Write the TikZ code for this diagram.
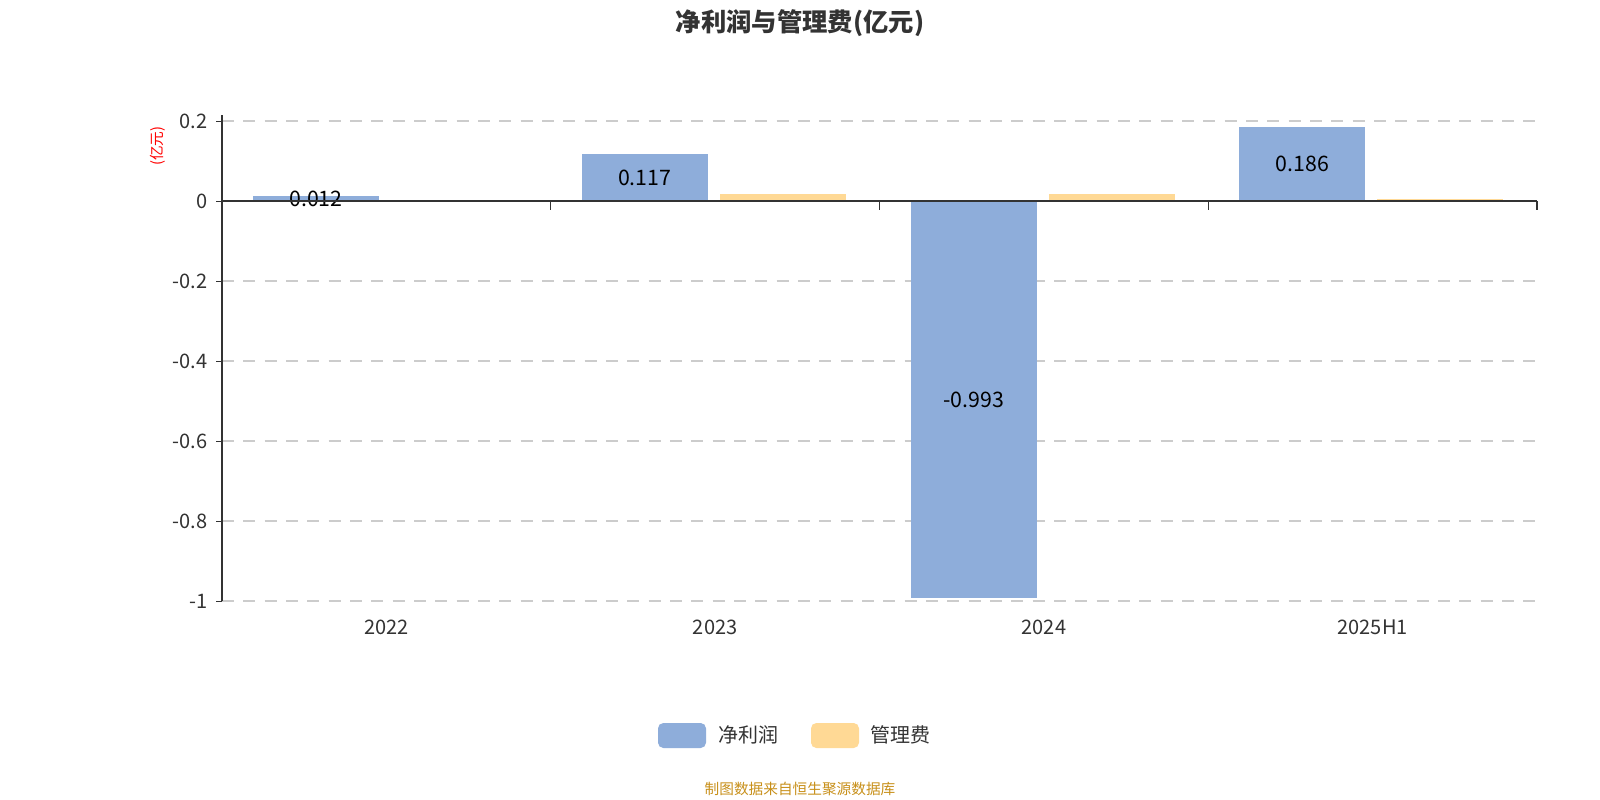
\documentclass[tikz,border=0pt]{standalone}
\usepackage{fontspec}
\setmainfont{Noto Sans CJK SC}
\definecolor{netc}{HTML}{8EADDA}
\definecolor{feec}{HTML}{FFD995}
\definecolor{axc}{HTML}{333333}
\definecolor{gridc}{HTML}{CCCCCC}
\definecolor{foot}{HTML}{C8901A}
\begin{document}
\begin{tikzpicture}[x=0.75pt,y=-0.75pt,
  tick/.style={font=\fontsize{15}{18}\selectfont,text=axc},
  val/.style={font=\fontsize{16}{19}\selectfont,text=black},
  grid/.style={gridc,dashed,dash pattern=on 9pt off 7pt,line width=1pt}]
\useasboundingbox[fill=white] (0,0) rectangle (1600,800);
\node[font=\bfseries\fontsize{19}{22}\selectfont,text=axc] (title) at (800,23) {净利润与管理费(亿元)};
% grid
\foreach \v/\t in {0.2/0.2,-0.2/-0.2,-0.4/-0.4,-0.6/-0.6,-0.8/-0.8,-1/-1}{
  \draw[grid] (222,201-400*\v) -- (1537,201-400*\v);
  \draw[axc] (216,201-400*\v) -- (222,201-400*\v);
  \node[tick,anchor=east] at (212,201-400*\v) {\t};
}
\node[tick,anchor=east] at (212,201) {0};
\draw[axc] (216,201) -- (222,201);
% bars
\foreach \i/\n/\f/\lab/\cat in {0/0.012/0/0.012/2022,1/0.117/0.018/0.117/2023,2/-0.993/0.018/-0.993/2024,3/0.186/0.005/0.186/2025H1}{
  \pgfmathsetmacro{\xs}{222+328.75*\i}
  \fill[netc] (\xs+31,201) rectangle (\xs+157,201-400*\n);
  \ifdim \f pt>0pt \fill[feec] (\xs+169,201) rectangle (\xs+295,201-400*\f);\fi
  \node[val] at (\xs+94,201-200*\n) {\lab};
  \node[tick] at (\xs+164.4,627) {\cat};
}
% axes
\draw[axc,line width=1pt] (222,115) -- (222,601);
\draw[axc,line width=1.2pt] (222,201) -- (1537,201);
\foreach \i in {0,1,2,3,4}{\draw[axc,line width=1pt] (222+328.75*\i,201) -- (222+328.75*\i,210);}
\node[rotate=90,text=red,font=\fontsize{11}{13}\selectfont] (unit) at (158,146) {(亿元)};
% legend
\fill[netc,rounded corners=4pt] (658,723) rectangle (706,748);
\node[tick,anchor=west] (l1) at (714,735) {净利润};
\fill[feec,rounded corners=4pt] (811,723) rectangle (859,748);
\node[tick,anchor=west] (l2) at (866,735) {管理费};
\node[text=foot,font=\fontsize{11}{13}\selectfont] (src) at (800,789) {制图数据来自恒生聚源数据库};
\end{tikzpicture}
\end{document}
